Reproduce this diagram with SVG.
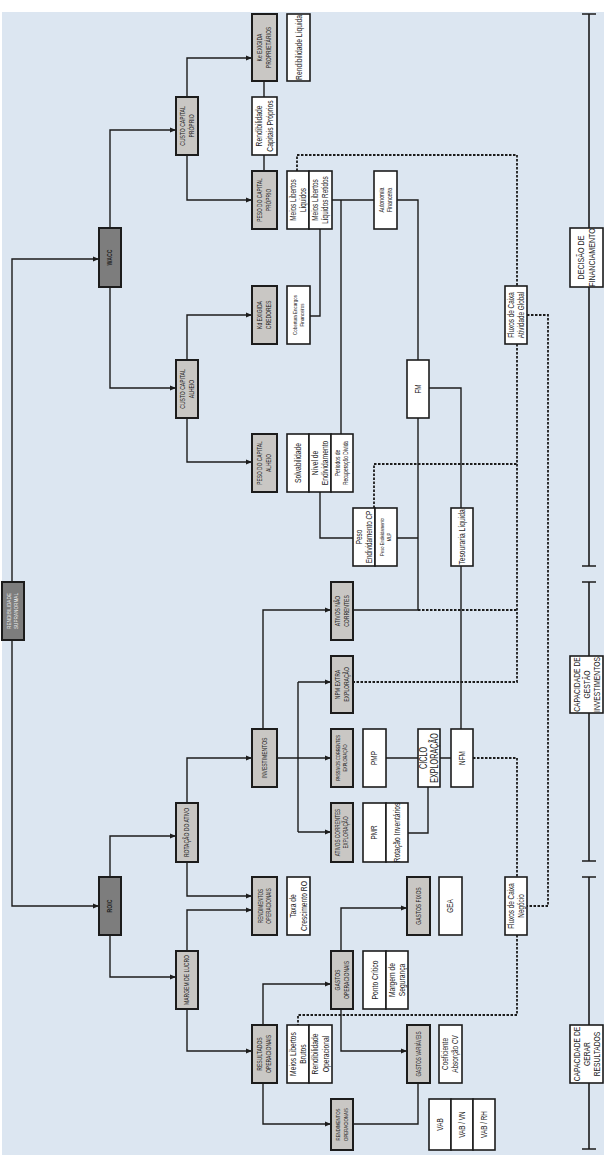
<svg xmlns="http://www.w3.org/2000/svg" width="613" height="1157" viewBox="0 0 613 1157">
<defs>
<marker id="ah" markerUnits="userSpaceOnUse" markerWidth="6" markerHeight="6" refX="6" refY="3" orient="auto"><path d="M0,0.5 L6,3 L0,5.5 z" fill="#1c1c1c"/></marker>
<style>
.g{fill:#c9c7c4;stroke:#1c1c1c;stroke-width:2}
.d{fill:#7d7d7d;stroke:#1c1c1c;stroke-width:2}
.w{fill:#ffffff;stroke:#1c1c1c;stroke-width:1.6}
text{font-family:"Liberation Sans",Arial,sans-serif;fill:#222;text-anchor:middle}
.s{fill:none;stroke:#1c1c1c;stroke-width:1.4}
.a{fill:none;stroke:#1c1c1c;stroke-width:1.4;marker-end:url(#ah)}
.k{fill:none;stroke:#1c1c1c;stroke-width:1.8;stroke-dasharray:2.5,1.5}
.b{fill:none;stroke:#1c1c1c;stroke-width:1.6}
</style>
</defs>
<rect x="0" y="0" width="613" height="1157" fill="#ffffff"/>
<rect x="2" y="12" width="602" height="1143" fill="#dce6f1"/>

<g id="connectors">
<path class="a" d="M12,582 V259 H99"/>
<path class="a" d="M12,640 V906 H99"/>
<path class="a" d="M110,228 V130 H176"/>
<path class="a" d="M110,287 V388 H176"/>
<path class="a" d="M110,877 V836 H176"/>
<path class="a" d="M110,935 V977 H176"/>
<path class="a" d="M187,97 V58 H252"/>
<path class="a" d="M187,155 V200 H252"/>
<path class="a" d="M187,360 V315 H252"/>
<path class="a" d="M187,418 V462 H252"/>
<path class="a" d="M187,803 V758 H252"/>
<path class="a" d="M187,862 V896 H252"/>
<path class="a" d="M187,951 V910 H252"/>
<path class="a" d="M187,1009 V1051 H252"/>
<path class="s" d="M264,81 V97 M264,155 V171"/>
<path class="a" d="M263,729 V610 H331"/>
<path class="a" d="M277,758 H331"/>
<path class="s" d="M298,682 V832"/>
<path class="a" d="M298,682 H331"/>
<path class="a" d="M298,832 H331"/>
<path class="a" d="M263,1025 V984 H331"/>
<path class="a" d="M263,1083 V1124 H331"/>
<path class="a" d="M341,951 V908 H407"/>
<path class="a" d="M341,1009 V1051 H407"/>
<path class="s" d="M418,1083 V1124 H353"/>
<path class="s" d="M332,200 H374 M397,200 H418 V360 M341,200 V434 M320,229 V316 H310"/>
<path class="s" d="M353,610 H418 V418"/>
<path class="s" d="M429,388 H461 V508 M461,566 V729"/>
<path class="s" d="M320,492 V538 H353 M397,538 H418"/>
<path class="s" d="M386,758 H418 M440,758 H451"/>
<path class="s" d="M408,833 H428 V787"/>
<path class="k" d="M297,171 V155 H517 V286"/>
<path class="k" d="M517,344 V682 H353"/>
<path class="k" d="M418,610 H517"/>
<path class="k" d="M374,508 V464 H517"/>
<path class="k" d="M527,315 H548 V906 H527"/>
<path class="k" d="M473,758 H517 V877"/>
<path class="k" d="M517,935 V1015 H298 V1025"/>
<path class="b" d="M589,14 V228 M589,287 V566 M582,14 H596 M582,566 H596"/>
<path class="b" d="M589,582 V656 M589,713 V861 M582,582 H596 M582,861 H596"/>
<path class="b" d="M589,877 V1025 M589,1083 V1149 M582,877 H596 M582,1149 H596"/>
</g>

<g id="rendibilidade-supranormal"><rect class="d" x="2" y="582" width="22" height="58"/>
<text transform="translate(13,611) rotate(-90) scale(0.85,1)" font-size="5.5" style="fill:#f2f2f2"><tspan x="0" y="-1.57">RENDIBILIDADE</tspan><tspan x="0" y="5.43">SUPRANORMAL</tspan></text></g>
<g id="wacc"><rect class="d" x="99" y="228" width="22" height="59"/>
<text transform="translate(110,257.5) rotate(-90) scale(0.8,1)" font-size="6.5" font-weight="bold" y="2.3">WACC</text></g>
<g id="roic"><rect class="d" x="99" y="877" width="22" height="58"/>
<text transform="translate(110,906) rotate(-90) scale(0.8,1)" font-size="6.5" font-weight="bold" y="2.3">ROIC</text></g>

<g id="custo-capital-proprio"><rect class="g" x="176" y="97" width="22" height="58"/>
<text transform="translate(187,126) rotate(-90) scale(0.72,1)" font-size="7"><tspan x="0" y="-2.05">CUSTO CAPITAL</tspan><tspan x="0" y="6.95">PRÓPRIO</tspan></text></g>
<g id="custo-capital-alheio"><rect class="g" x="176" y="360" width="22" height="58"/>
<text transform="translate(187,389) rotate(-90) scale(0.72,1)" font-size="7"><tspan x="0" y="-2.05">CUSTO CAPITAL</tspan><tspan x="0" y="6.95">ALHEIO</tspan></text></g>
<g id="rotacao-ativo"><rect class="g" x="176" y="803" width="22" height="59"/>
<text transform="translate(187,832.5) rotate(-90) scale(0.72,1)" font-size="7" y="2.45">ROTAÇÃO DO ATIVO</text></g>
<g id="margem-lucro"><rect class="g" x="176" y="951" width="22" height="58"/>
<text transform="translate(187,980) rotate(-90) scale(0.72,1)" font-size="7" y="2.45">MARGEM DE LUCRO</text></g>

<g id="ke"><rect class="g" x="252" y="14" width="25" height="67"/>
<text transform="translate(264.5,47.5) rotate(-90) scale(0.72,1)" font-size="7"><tspan x="0" y="-2.05">Ke EXIGIDA</tspan><tspan x="0" y="6.95">PROPRIETÁRIOS</tspan></text></g>
<g id="rendib-capitais-proprios"><rect class="w" x="252" y="97" width="25" height="58"/>
<text transform="translate(264.5,126) rotate(-90) scale(0.75,1)" font-size="9"><tspan x="0" y="-2.1">Rendibilidade</tspan><tspan x="0" y="8.4">Capitais Próprios</tspan></text></g>
<g id="peso-capital-proprio"><rect class="g" x="252" y="171" width="25" height="58"/>
<text transform="translate(264.5,200) rotate(-90) scale(0.7,1)" font-size="7"><tspan x="0" y="-2.05">PESO DO CAPITAL</tspan><tspan x="0" y="6.95">PRÓPRIO</tspan></text></g>
<g id="kd"><rect class="g" x="252" y="286" width="25" height="58"/>
<text transform="translate(264.5,315) rotate(-90) scale(0.72,1)" font-size="7"><tspan x="0" y="-2.05">Kd EXIGIDA</tspan><tspan x="0" y="6.95">CREDORES</tspan></text></g>
<g id="peso-capital-alheio"><rect class="g" x="252" y="434" width="25" height="58"/>
<text transform="translate(264.5,463) rotate(-90) scale(0.7,1)" font-size="7"><tspan x="0" y="-2.05">PESO DO CAPITAL</tspan><tspan x="0" y="6.95">ALHEIO</tspan></text></g>
<g id="investimentos"><rect class="g" x="252" y="729" width="25" height="58"/>
<text transform="translate(264.5,758) rotate(-90) scale(0.72,1)" font-size="7" y="2.45">INVESTIMENTOS</text></g>
<g id="rendimentos-operacionais-1"><rect class="g" x="252" y="877" width="25" height="58"/>
<text transform="translate(264.5,906) rotate(-90) scale(0.72,1)" font-size="6.5"><tspan x="0" y="-1.72">RENDIMENTOS</tspan><tspan x="0" y="6.28">OPERACIONAIS</tspan></text></g>
<g id="resultados-operacionais"><rect class="g" x="252" y="1025" width="25" height="58"/>
<text transform="translate(264.5,1054) rotate(-90) scale(0.72,1)" font-size="7"><tspan x="0" y="-2.05">RESULTADOS</tspan><tspan x="0" y="6.95">OPERACIONAIS</tspan></text></g>

<g id="rendibilidade-liquida"><rect class="w" x="287" y="14" width="23" height="67"/>
<text transform="translate(298.5,47.5) rotate(-90) scale(0.75,1)" font-size="9" y="3.15">Rendibilidade Líquida</text></g>
<g id="meios-libertos-liquidos"><rect class="w" x="287" y="171" width="22" height="58"/>
<text transform="translate(298,200) rotate(-90) scale(0.75,1)" font-size="8.5"><tspan x="0" y="-2.02">Meios Libertos</tspan><tspan x="0" y="7.98">Líquidos</tspan></text></g>
<g id="meios-libertos-retidos"><rect class="w" x="309" y="171" width="23" height="58"/>
<text transform="translate(320.5,200) rotate(-90) scale(0.75,1)" font-size="8.5"><tspan x="0" y="-2.02">Meios Libertos</tspan><tspan x="0" y="7.98">Líquidos Retidos</tspan></text></g>
<g id="cobertura-encargos"><rect class="w" x="287" y="286" width="23" height="58"/>
<text transform="translate(298.5,315) rotate(-90) scale(0.75,1)" font-size="6"><tspan x="0" y="-1.65">Cobertura Encargos</tspan><tspan x="0" y="5.85">Financeiros</tspan></text></g>
<g id="solvabilidade"><rect class="w" x="287" y="434" width="22" height="58"/>
<text transform="translate(298,463) rotate(-90) scale(0.75,1)" font-size="9" y="3.15">Solvabilidade</text></g>
<g id="nivel-endividamento"><rect class="w" x="309" y="434" width="22" height="58"/>
<text transform="translate(320,463) rotate(-90) scale(0.75,1)" font-size="9"><tspan x="0" y="-2.1">Nível de</tspan><tspan x="0" y="8.4">Endividamento</tspan></text></g>
<g id="periodos-recuperacao"><rect class="w" x="331" y="434" width="22" height="58"/>
<text transform="translate(342,463) rotate(-90) scale(0.75,1)" font-size="6.5"><tspan x="0" y="-1.72">Períodos de</tspan><tspan x="0" y="6.28">Recuperação Dívida</tspan></text></g>
<g id="taxa-crescimento"><rect class="w" x="287" y="877" width="23" height="58"/>
<text transform="translate(298.5,906) rotate(-90) scale(0.75,1)" font-size="9"><tspan x="0" y="-2.1">Taxa de</tspan><tspan x="0" y="8.4">Crescimento RO</tspan></text></g>
<g id="meios-libertos-brutos"><rect class="w" x="287" y="1025" width="22" height="58"/>
<text transform="translate(298,1054) rotate(-90) scale(0.75,1)" font-size="9"><tspan x="0" y="-2.1">Meios Libertos</tspan><tspan x="0" y="8.4">Brutos</tspan></text></g>
<g id="rendibilidade-operacional"><rect class="w" x="309" y="1025" width="23" height="58"/>
<text transform="translate(320.5,1054) rotate(-90) scale(0.75,1)" font-size="9"><tspan x="0" y="-2.1">Rendibilidade</tspan><tspan x="0" y="8.4">Operacional</tspan></text></g>

<g id="ativos-nao-correntes"><rect class="g" x="331" y="582" width="22" height="58"/>
<text transform="translate(342,611) rotate(-90) scale(0.72,1)" font-size="7"><tspan x="0" y="-2.05">ATIVOS NÃO</tspan><tspan x="0" y="6.95">CORRENTES</tspan></text></g>
<g id="npm-extra"><rect class="g" x="331" y="656" width="22" height="57"/>
<text transform="translate(342,684.5) rotate(-90) scale(0.72,1)" font-size="7"><tspan x="0" y="-2.05">NPM EXTRA</tspan><tspan x="0" y="6.95">EXPLORAÇÃO</tspan></text></g>
<g id="passivos-correntes"><rect class="g" x="331" y="729" width="22" height="58"/>
<text transform="translate(342,758) rotate(-90) scale(0.72,1)" font-size="5.5"><tspan x="0" y="-1.57">PASSIVOS CORRENTES</tspan><tspan x="0" y="5.43">EXPLORAÇÃO</tspan></text></g>
<g id="ativos-correntes"><rect class="g" x="331" y="803" width="22" height="59"/>
<text transform="translate(342,832.5) rotate(-90) scale(0.72,1)" font-size="6.5"><tspan x="0" y="-1.72">ATIVOS CORRENTES</tspan><tspan x="0" y="6.28">EXPLORAÇÃO</tspan></text></g>
<g id="gastos-operacionais"><rect class="g" x="331" y="951" width="22" height="58"/>
<text transform="translate(342,980) rotate(-90) scale(0.72,1)" font-size="7"><tspan x="0" y="-2.05">GASTOS</tspan><tspan x="0" y="6.95">OPERACIONAIS</tspan></text></g>
<g id="rendimentos-operacionais-2"><rect class="g" x="331" y="1099" width="22" height="51"/>
<text transform="translate(342,1124.5) rotate(-90) scale(0.72,1)" font-size="6"><tspan x="0" y="-1.65">RENDIMENTOS</tspan><tspan x="0" y="5.85">OPERACIONAIS</tspan></text></g>

<g id="peso-endividamento-cp"><rect class="w" x="353" y="508" width="22" height="58"/>
<text transform="translate(364,537) rotate(-90) scale(0.75,1)" font-size="8.5"><tspan x="0" y="-2.02">Peso</tspan><tspan x="0" y="7.98">Endividamento CP</tspan></text></g>
<g id="peso-endividamento-mlp"><rect class="w" x="375" y="508" width="22" height="58"/>
<text transform="translate(386,537) rotate(-90) scale(0.75,1)" font-size="5.5"><tspan x="0" y="-1.57">Peso Endividamento</tspan><tspan x="0" y="5.43">MLP</tspan></text></g>
<g id="autonomia-financeira"><rect class="w" x="374" y="171" width="23" height="58"/>
<text transform="translate(385.5,200) rotate(-90) scale(0.75,1)" font-size="7"><tspan x="0" y="-1.8">Autonomia</tspan><tspan x="0" y="6.7">Financeira</tspan></text></g>
<g id="pmp"><rect class="w" x="363" y="729" width="23" height="58"/>
<text transform="translate(374.5,758) rotate(-90) scale(0.75,1)" font-size="8.5" y="2.98">PMP</text></g>
<g id="pmr"><rect class="w" x="363" y="803" width="23" height="59"/>
<text transform="translate(374.5,832.5) rotate(-90) scale(0.75,1)" font-size="8.5" y="2.98">PMR</text></g>
<g id="rotacao-inventarios"><rect class="w" x="386" y="803" width="22" height="59"/>
<text transform="translate(397,832.5) rotate(-90) scale(0.75,1)" font-size="9" y="3.15">Rotação Inventários</text></g>
<g id="ponto-critico"><rect class="w" x="363" y="951" width="23" height="58"/>
<text transform="translate(374.5,980) rotate(-90) scale(0.75,1)" font-size="9" y="3.15">Ponto Crítico</text></g>
<g id="margem-seguranca"><rect class="w" x="386" y="951" width="22" height="58"/>
<text transform="translate(397,980) rotate(-90) scale(0.75,1)" font-size="9"><tspan x="0" y="-2.1">Margem de</tspan><tspan x="0" y="8.4">Segurança</tspan></text></g>

<g id="fm"><rect class="w" x="407" y="360" width="22" height="58"/>
<text transform="translate(418,389) rotate(-90) scale(0.75,1)" font-size="8.5" y="2.98">FM</text></g>
<g id="ciclo-exploracao"><rect class="w" x="418" y="729" width="22" height="58"/>
<text transform="translate(429,758) rotate(-90) scale(0.72,1)" font-size="10"><tspan x="0" y="-2">CICLO</tspan><tspan x="0" y="9">EXPLORAÇÃO</tspan></text></g>
<g id="gastos-fixos"><rect class="g" x="407" y="877" width="23" height="58"/>
<text transform="translate(418.5,906) rotate(-90) scale(0.72,1)" font-size="7" y="2.45">GASTOS FIXOS</text></g>
<g id="gastos-variaveis"><rect class="g" x="407" y="1025" width="23" height="58"/>
<text transform="translate(418.5,1054) rotate(-90) scale(0.72,1)" font-size="6.5" y="2.28">GASTOS VARIÁVEIS</text></g>
<g id="gea"><rect class="w" x="439" y="877" width="23" height="58"/>
<text transform="translate(450.5,906) rotate(-90) scale(0.75,1)" font-size="8.5" y="2.98">GEA</text></g>
<g id="coeficiente-absorcao"><rect class="w" x="439" y="1025" width="23" height="58"/>
<text transform="translate(450.5,1054) rotate(-90) scale(0.75,1)" font-size="8.5"><tspan x="0" y="-2.02">Coeficiente</tspan><tspan x="0" y="7.98">Absorção CV</tspan></text></g>
<g id="tesouraria-liquida"><rect class="w" x="451" y="508" width="22" height="58"/>
<text transform="translate(462,537) rotate(-90) scale(0.75,1)" font-size="9" y="3.15">Tesouraria Líquida</text></g>
<g id="nfm"><rect class="w" x="451" y="729" width="22" height="58"/>
<text transform="translate(462,758) rotate(-90) scale(0.75,1)" font-size="8.5" y="2.98">NFM</text></g>
<g id="vab"><rect class="w" x="429" y="1099" width="22" height="51"/>
<text transform="translate(440,1124.5) rotate(-90) scale(0.75,1)" font-size="8.5" y="2.98">VAB</text></g>
<g id="vab-vn"><rect class="w" x="451" y="1099" width="22" height="51"/>
<text transform="translate(462,1124.5) rotate(-90) scale(0.75,1)" font-size="8.5" y="2.98">VAB / VN</text></g>
<g id="vab-rh"><rect class="w" x="473" y="1099" width="22" height="51"/>
<text transform="translate(484,1124.5) rotate(-90) scale(0.75,1)" font-size="8.5" y="2.98">VAB / RH</text></g>
<g id="fluxos-caixa-global"><rect class="w" x="505" y="286" width="22" height="58"/>
<text transform="translate(516,315) rotate(-90) scale(0.75,1)" font-size="8.5"><tspan x="0" y="-2.02">Fluxos de Caixa</tspan><tspan x="0" y="7.98">Atividade Global</tspan></text></g>
<g id="fluxos-caixa-negocio"><rect class="w" x="505" y="877" width="22" height="58"/>
<text transform="translate(516,906) rotate(-90) scale(0.75,1)" font-size="8.5"><tspan x="0" y="-2.02">Fluxos de Caixa</tspan><tspan x="0" y="7.98">Negócio</tspan></text></g>

<g id="decisao-financiamento"><rect class="w" x="570" y="228" width="33" height="59"/>
<text transform="translate(586.5,257.5) rotate(-90) scale(0.75,1)" font-size="9.5"><tspan x="0" y="-2.17">DECISÃO DE</tspan><tspan x="0" y="8.83">FINANCIAMENTO</tspan></text></g>
<g id="capacidade-gestao-investimentos"><rect class="w" x="570" y="656" width="33" height="57"/>
<text transform="translate(586.5,684.5) rotate(-90) scale(0.75,1)" font-size="9"><tspan x="0" y="-6.85">CAPACIDADE DE</tspan><tspan x="0" y="3.15">GESTÃO</tspan><tspan x="0" y="13.15">INVESTIMENTOS</tspan></text></g>
<g id="capacidade-gerar-resultados"><rect class="w" x="570" y="1025" width="33" height="58"/>
<text transform="translate(586.5,1054) rotate(-90) scale(0.75,1)" font-size="9"><tspan x="0" y="-6.85">CAPACIDADE DE</tspan><tspan x="0" y="3.15">GERAR</tspan><tspan x="0" y="13.15">RESULTADOS</tspan></text></g>
</svg>
